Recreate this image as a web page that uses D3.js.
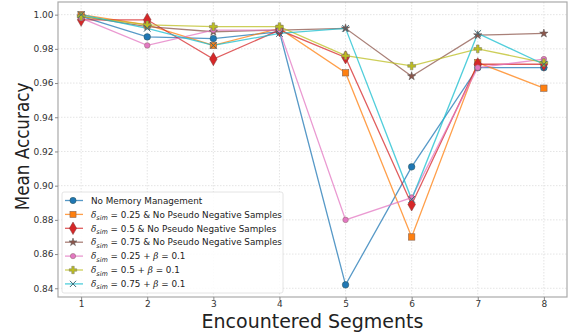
<!DOCTYPE html>
<html>
<head>
<meta charset="utf-8">
<script src="https://cdn.jsdelivr.net/npm/d3@7"></script>
<style>
  body { margin: 0; background: #fff; }
  text { font-family: "DejaVu Sans", sans-serif; }
</style>
</head>
<body>
<svg id="chart" width="581" height="334"></svg>
<script>
// segments on the x axis
var segments = [1, 2, 3, 4, 5, 6, 7, 8];
var yTicks = [0.84, 0.86, 0.88, 0.90, 0.92, 0.94, 0.96, 0.98, 1.00];

// mean accuracy per series
var noMemory     = [0.999, 0.987, 0.986, 0.990, 0.842, 0.911, 0.969, 0.969];
var sim25NoPseudo = [1.000, 0.994, 0.982, 0.992, 0.966, 0.870, 0.972, 0.957];
var sim50NoPseudo = [0.997, 0.997, 0.974, 0.991, 0.975, 0.889, 0.971, 0.971];
var sim75NoPseudo = [0.999, 0.993, 0.990, 0.991, 0.992, 0.964, 0.988, 0.989];
var sim25Beta     = [0.998, 0.982, 0.991, 0.991, 0.880, 0.893, 0.969, 0.974];
var sim50Beta     = [0.999, 0.994, 0.993, 0.993, 0.976, 0.970, 0.980, 0.972];
var sim75Beta     = [1.000, 0.992, 0.982, 0.989, 0.992, 0.892, 0.989, 0.971];

var series = [
  {vals: noMemory,      color: "#1f77b4", marker: "circle",  label: ""},
  {vals: sim25NoPseudo, color: "#ff7f0e", marker: "square",  label: " = 0.25 & No Pseudo Negative Samples"},
  {vals: sim50NoPseudo, color: "#d62728", marker: "diamond", label: " = 0.5 & No Pseudo Negative Samples"},
  {vals: sim75NoPseudo, color: "#8c564b", marker: "star",    label: " = 0.75 & No Pseudo Negative Samples"},
  {vals: sim25Beta,     color: "#e377c2", marker: "circleS", label: " = 0.25 + ", beta: " = 0.1"},
  {vals: sim50Beta,     color: "#bcbd22", marker: "plus",    label: " = 0.5 + ",  beta: " = 0.1"},
  {vals: sim75Beta,     color: "#17becf", marker: "x",       label: " = 0.75 + ", beta: " = 0.1"}
];

var svg = d3.select("#chart");
var margin = {left: 58, right: 14, top: 2, bottom: 37};
var W = 581, H = 334;

var x = d3.scaleLinear().domain([0.65, 8.35]).range([margin.left, W - margin.right]);
var y = d3.scaleLinear().domain([0.8349, 1.0074]).range([H - margin.bottom, margin.top]);

// grid
var grid = svg.append("g");
grid.selectAll("line.gx").data(segments).enter().append("line")
  .attr("x1", d => x(d)).attr("x2", d => x(d))
  .attr("y1", y.range()[1]).attr("y2", y.range()[0])
  .attr("stroke", "#ddd").attr("stroke-width", 0.8).attr("stroke-dasharray", "1.5,1.5");
grid.selectAll("line.gy").data(yTicks).enter().append("line")
  .attr("y1", d => y(d)).attr("y2", d => y(d))
  .attr("x1", x.range()[0]).attr("x2", x.range()[1])
  .attr("stroke", "#ddd").attr("stroke-width", 0.8).attr("stroke-dasharray", "1.5,1.5");

// frame
svg.append("rect")
  .attr("x", x.range()[0]).attr("y", y.range()[1])
  .attr("width", x.range()[1] - x.range()[0]).attr("height", y.range()[0] - y.range()[1])
  .attr("fill", "none").attr("stroke", "#aaa").attr("stroke-width", 1.2);

// axes
var xAxis = svg.append("g").attr("transform", "translate(0," + y.range()[0] + ")")
  .call(d3.axisBottom(x).tickValues(segments).tickFormat(d3.format("d")).tickSize(3).tickPadding(1));
var yAxis = svg.append("g").attr("transform", "translate(" + x.range()[0] + ",0)")
  .call(d3.axisLeft(y).tickValues(yTicks).tickFormat(d3.format(".2f")).tickSize(3).tickPadding(1.5));
[xAxis, yAxis].forEach(function(a) {
  a.select(".domain").remove();
  a.selectAll(".tick line").attr("stroke", "#888");
  a.selectAll(".tick text").attr("fill", "#333").style("font-size", "9px")
    .style("font-family", "DejaVu Sans, sans-serif");
});

svg.append("text")
  .attr("transform", "translate(29," + ((y.range()[0] + y.range()[1]) / 2 - 3) + ") rotate(-90) scale(0.84,1)")
  .attr("text-anchor", "middle").style("font-size", "20px").attr("fill", "#222")
  .text("Mean Accuracy");
svg.append("text")
  .attr("x", (x.range()[0] + x.range()[1]) / 2).attr("y", 328)
  .attr("text-anchor", "middle").style("font-size", "19px").attr("fill", "#222")
  .text("Encountered Segments");

// marker drawing
function drawMarker(g, type, color, s) {
  s = s || 1;
  if (type == "circle") {
    g.append("circle").attr("r", 3.3 * s).attr("fill", color).attr("stroke", "#355").attr("stroke-width", 0.5);
  } else if (type == "circleS") {
    g.append("circle").attr("r", 2.8 * s).attr("fill", color).attr("stroke", "#866").attr("stroke-width", 0.5);
  } else if (type == "square") {
    g.append("rect").attr("x", -3.2 * s).attr("y", -3.2 * s).attr("width", 6.4 * s).attr("height", 6.4 * s)
      .attr("fill", color).attr("stroke", "#865").attr("stroke-width", 0.6);
  } else if (type == "diamond") {
    g.append("path").attr("d", d3.symbol(d3.symbolDiamond, 50 * s * s)())
      .attr("fill", color).attr("stroke", "#733").attr("stroke-width", 0.5);
  } else if (type == "star") {
    g.append("path").attr("d", d3.symbol(d3.symbolStar, 22 * s * s)())
      .attr("fill", color).attr("stroke", "#555").attr("stroke-width", 0.5);
  } else if (type == "plus") {
    g.append("path").attr("d", d3.symbol(d3.symbolCross, 34 * s * s)())
      .attr("fill", color).attr("stroke", "#776").attr("stroke-width", 0.5);
  } else if (type == "x") {
    g.append("path").attr("d", d3.symbol(d3.symbolX, 30 * s * s)())
      .attr("fill", "none").attr("stroke", "#3a6a78").attr("stroke-width", 1);
  }
}

// lines + markers
var line = d3.line().x((d, i) => x(segments[i])).y(d => y(d));
series.forEach(function(s) {
  svg.append("path").datum(s.vals).attr("d", line)
    .attr("fill", "none").attr("stroke", s.color).attr("stroke-width", 1.3).attr("stroke-opacity", 0.75);
});
series.forEach(function(s) {
  s.vals.forEach(function(v, i) {
    var g = svg.append("g").attr("transform", "translate(" + x(segments[i]) + "," + y(v) + ")");
    drawMarker(g, s.marker, s.color);
  });
});

// legend
var lg = svg.append("g").attr("transform", "translate(62,192)");
lg.append("rect").attr("width", 221).attr("height", 101).attr("rx", 2)
  .attr("fill", "#fff").attr("fill-opacity", 0.85).attr("stroke", "#ddd").attr("stroke-width", 0.8);
series.forEach(function(s, i) {
  var ry = 8.5 + i * 13.9;
  var row = lg.append("g").attr("transform", "translate(0," + ry + ")");
  row.append("line").attr("x1", 3).attr("x2", 21).attr("stroke", s.color)
    .attr("stroke-width", 1.3).attr("stroke-opacity", 0.75);
  drawMarker(row.append("g").attr("transform", "translate(11,0)"), s.marker, s.color, 0.95);
  var t = row.append("text").attr("x", 29).attr("y", 3.2).style("font-size", "8.8px").attr("fill", "#222");
  if (i == 0) {
    t.text("No Memory Management");
  } else {
    t.append("tspan").style("font-style", "italic").style("font-family", "DejaVu Serif, serif").text("δ");
    t.append("tspan").attr("dy", 2.3).style("font-size", "6.5px").style("font-style", "italic").text("sim");
    t.append("tspan").attr("dy", -2.3).text(s.label);
    if (s.beta) {
      t.append("tspan").style("font-style", "italic").style("font-family", "DejaVu Serif, serif").text("β");
      t.append("tspan").text(s.beta);
    }
  }
});
</script>
</body>
</html>
